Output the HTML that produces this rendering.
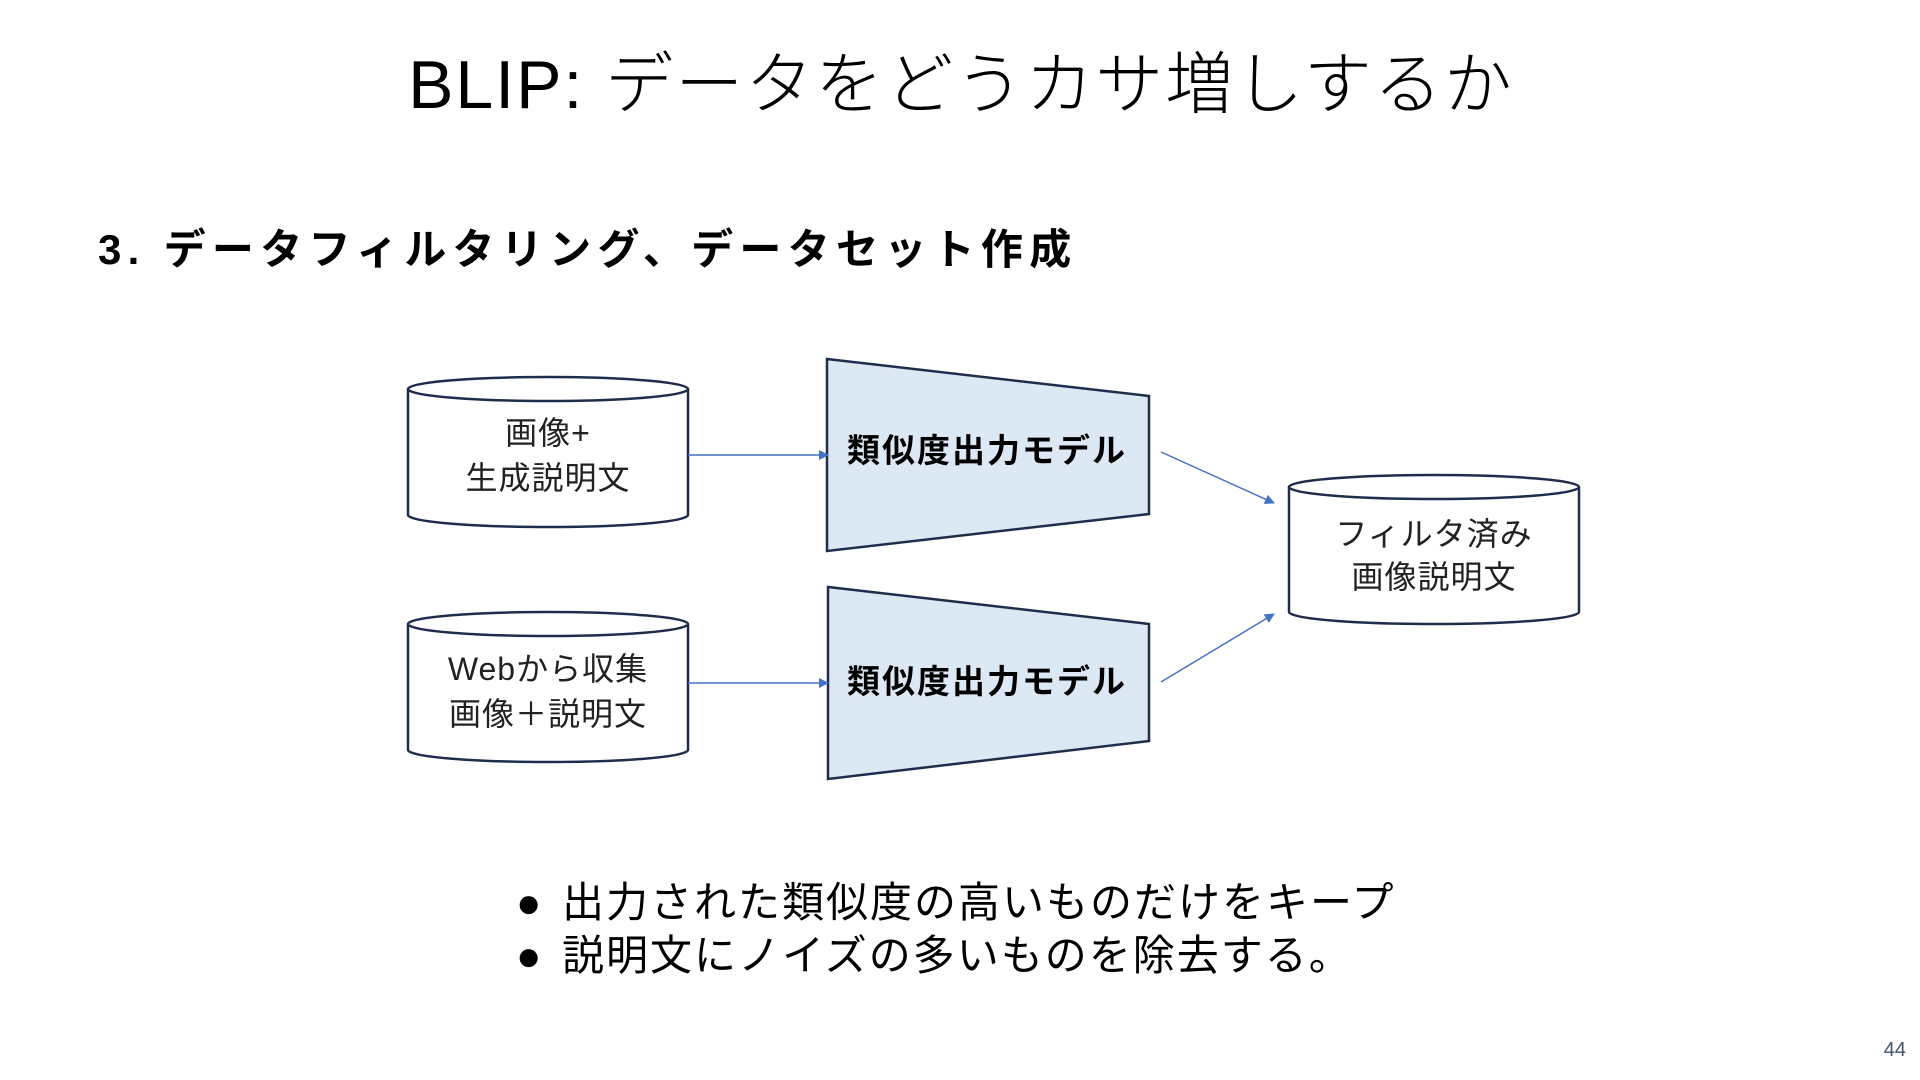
<!DOCTYPE html>
<html><head><meta charset="utf-8"><style>
html,body{margin:0;padding:0;background:#fff;}
svg{display:block;}
text{font-family:"Liberation Sans","Noto Sans CJK JP",sans-serif;}
</style></head><body>
<svg width="1920" height="1080" viewBox="0 0 1920 1080" xmlns="http://www.w3.org/2000/svg">
<defs><marker id="ah" markerWidth="10" markerHeight="10" refX="9" refY="5" orient="auto" markerUnits="userSpaceOnUse"><path d="M0,0 L10,5 L0,10 z" fill="#4472c4"/></marker></defs>
<text x="961" y="108" font-size="68" text-anchor="middle" fill="#000" letter-spacing="2" font-weight="300">BLIP: データをどうカサ増しするか</text>
<text x="98" y="264" font-size="42" font-weight="bold" fill="#000" letter-spacing="6.3">3. データフィルタリング、データセット作成</text>
<g fill="#fff" stroke="#1f2d4d" stroke-width="2.5">
<path d="M408,389 L408,515 A140,12 0 0 0 688,515 L688,389"/>
<ellipse cx="548" cy="389" rx="140" ry="12"/>
<path d="M408,624 L408,750 A140,12 0 0 0 688,750 L688,624"/>
<ellipse cx="548" cy="624" rx="140" ry="12"/>
<path d="M1289,487 L1289,612 A145,12 0 0 0 1579,612 L1579,487"/>
<ellipse cx="1434" cy="487" rx="145" ry="12"/>
</g>
<g fill="#dde8f5" stroke="#1f2d4d" stroke-width="2.5">
<polygon points="827,359 1149,396 1149,514 827,551"/>
<polygon points="828,587 1149,624 1149,741 828,779"/>
</g>
<g font-size="32" text-anchor="middle" fill="#222" letter-spacing="1">
<text x="548" y="444">画像+</text><text x="548" y="489">生成説明文</text>
<text x="548" y="680">Webから収集</text><text x="548" y="725">画像＋説明文</text>
<text x="1434" y="545">フィルタ済み</text><text x="1434" y="588">画像説明文</text>
</g>
<g font-size="33" font-weight="bold" text-anchor="middle" fill="#000" letter-spacing="2">
<text x="987" y="462">類似度出力モデル</text>
<text x="987" y="693">類似度出力モデル</text>
</g>
<g stroke="#4472c4" stroke-width="1.5" marker-end="url(#ah)">
<line x1="688" y1="455" x2="828" y2="455"/>
<line x1="688" y1="683" x2="828" y2="683"/>
<line x1="1161" y1="452" x2="1274" y2="503"/>
<line x1="1161" y1="682" x2="1274" y2="614"/>
</g>
<g font-size="42" fill="#000">
<text x="516" y="917">●</text><text x="562" y="917" letter-spacing="2">出力された類似度の高いものだけをキープ</text>
<text x="516" y="970">●</text><text x="562" y="970" letter-spacing="2">説明文にノイズの多いものを除去する。</text>
</g>
<text x="1906" y="1056" font-size="20" text-anchor="end" fill="#44546a">44</text>
</svg>
</body></html>
